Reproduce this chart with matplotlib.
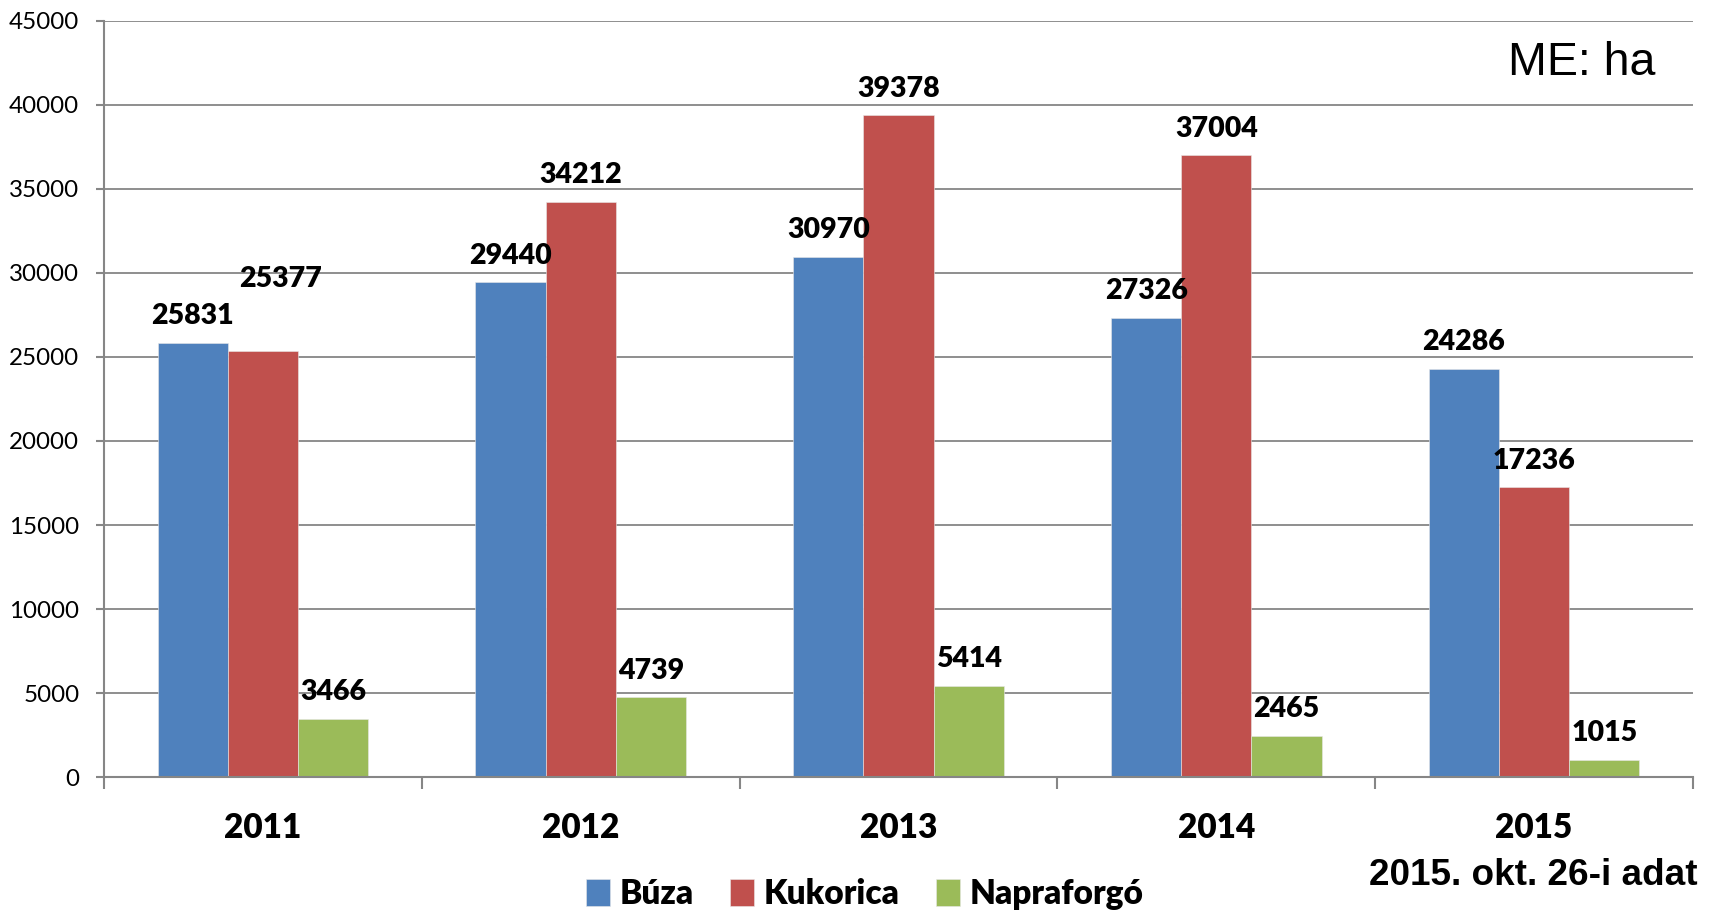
import matplotlib
matplotlib.use("Agg")
import matplotlib.pyplot as plt
import numpy as np

YEARS = ["2011", "2012", "2013", "2014", "2015"]
SERIES = ["Búza", "Kukorica", "Napraforgó"]
BUZA = [25831, 29440, 30970, 27326, 24286]
KUKORICA = [25377, 34212, 39378, 37004, 17236]
NAPRAFORGO = [3466, 4739, 5414, 2465, 1015]
COLORS = ["#4F81BD", "#C0504D", "#9BBB59"]

W, H = 1719, 913
fig = plt.figure(figsize=(W / 100, H / 100), dpi=100)
ax = fig.add_axes([104 / W, 1 - 777 / H, (1693 - 104) / W, (777 - 21) / H])

x = np.arange(len(YEARS))
bar_w = 0.221
values = [BUZA, KUKORICA, NAPRAFORGO]
label_font = dict(family="Lato", fontweight="heavy", fontsize=20.5)

for i, (name, vals, col) in enumerate(zip(SERIES, values, COLORS)):
    pos = x + (i - 1) * bar_w
    ax.bar(pos, vals, bar_w, color=col, label=name, edgecolor="#e8e8e8",
           linewidth=0.4, zorder=3)
    for j, (px, v) in enumerate(zip(pos, vals)):
        dx, dy = 0, 13.5
        if i == 1 and j == 0:
            dx, dy = 13, 46  # label moved up in the original
        ax.annotate(f"{v}", (px, v), xytext=(dx, dy), textcoords="offset points",
                    ha="center", va="baseline", zorder=4, **label_font)

ax.set_xlim(-0.5, len(YEARS) - 0.5)
ax.set_ylim(0, 45000)
ax.set_yticks(np.arange(0, 45001, 5000))
ax.set_yticklabels([str(v) for v in range(0, 45001, 5000)], family="Lato", fontsize=17.4)
ax.set_xticks(x)
ax.set_xticklabels(YEARS, family="Lato", fontweight="heavy", fontsize=24)
ax.set_xticks(np.arange(-0.5, len(YEARS)), minor=True)
ax.tick_params(axis="x", which="major", length=0, pad=25)
ax.tick_params(axis="x", which="minor", length=8.6, width=1.5, color="#868686", direction="out")
ax.tick_params(axis="y", length=5.8, width=1.5, color="#868686", pad=12)

ax.grid(axis="y", color="#868686", linewidth=1.3, zorder=0)
for s in ["top", "right"]:
    ax.spines[s].set_visible(False)
for s in ["left", "bottom"]:
    ax.spines[s].set_color("#868686")
    ax.spines[s].set_linewidth(1.5)
    ax.spines[s].set_zorder(5)

fig.text(1655 / W, 1 - 63 / H, "ME: ha", family="Liberation Sans", fontsize=33.5,
         ha="right", va="center")
fig.text(1698 / W, 1 - 875 / H, "2015. okt. 26-i adat", family="Liberation Sans",
         fontweight="bold", fontsize=26.6, ha="right", va="center")

fig.legend(loc="center", bbox_to_anchor=(865 / W, 1 - 894 / H), ncol=3, frameon=False,
           prop=dict(family="Lato", weight="heavy", size=24), handlelength=0.7,
           handleheight=0.9, handletextpad=0.3, columnspacing=1.1)

fig.savefig("out.png", dpi=100)
